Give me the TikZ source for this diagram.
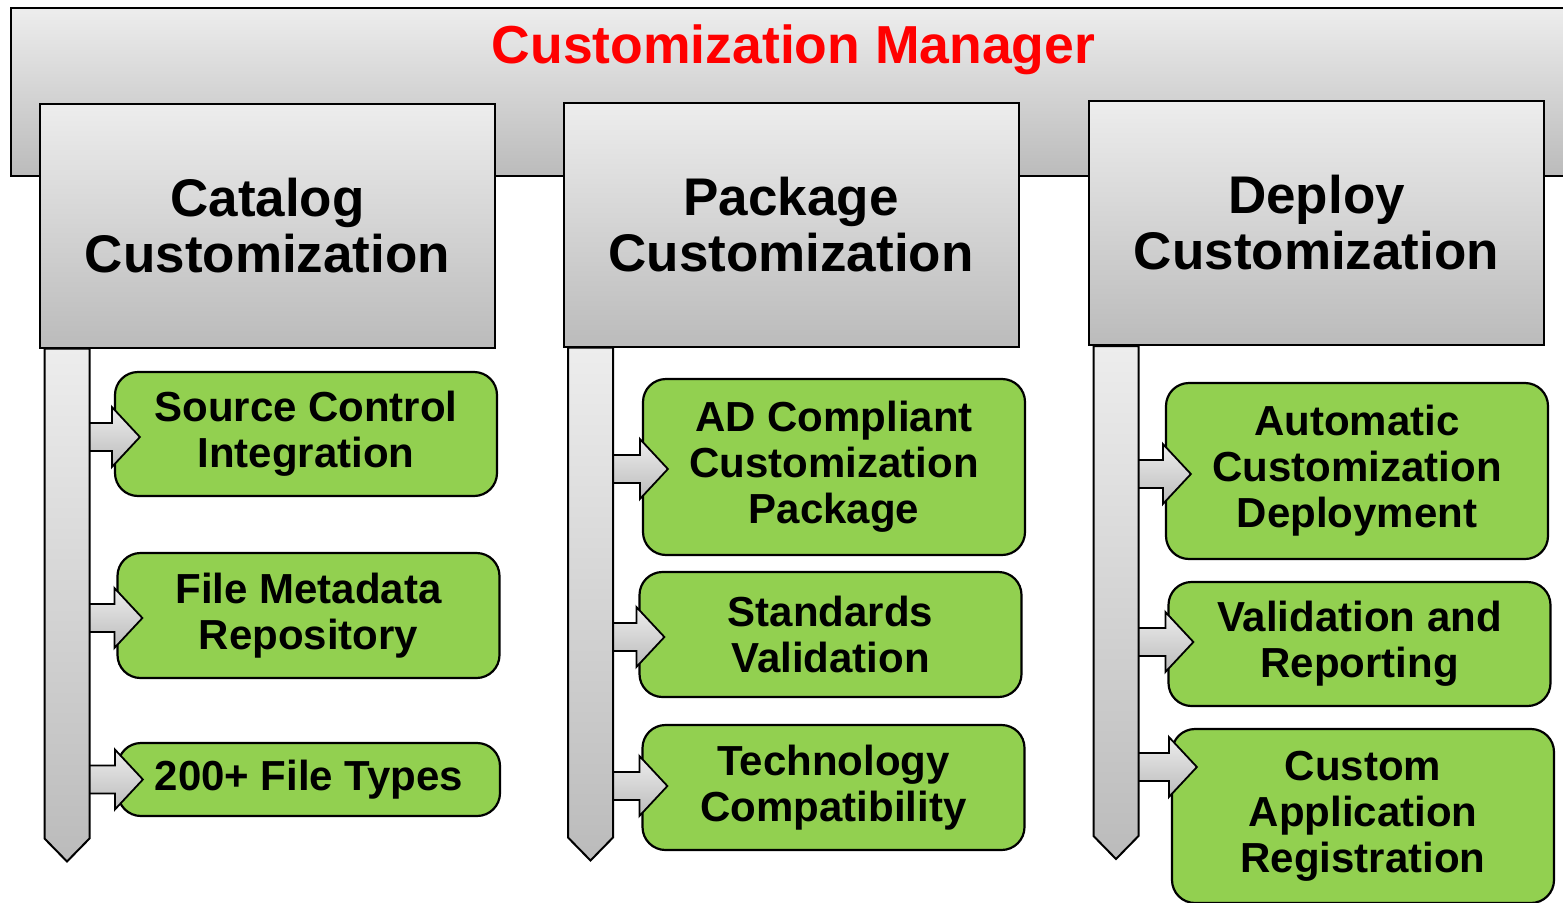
\documentclass[tikz,border=0pt]{standalone}
\usepackage{fontspec}
\setmainfont{Liberation Sans}
\usetikzlibrary{calc}

\definecolor{leafgreen}{HTML}{92D050}
\definecolor{shadetop}{HTML}{EDEDED}
\definecolor{shadebot}{HTML}{BBBBBB}

\begin{document}
\begin{tikzpicture}[x=1pt, y=-1pt,
    topbar/.style={draw, line width=2pt, top color=shadetop, bottom color=shadebot, inner sep=0pt},
    title/.style={text=red, font=\fontsize{53.5}{56}\selectfont\bfseries, inner sep=0pt},
    headbox/.style={draw, line width=2pt, top color=shadetop, bottom color=shadebot,
      minimum width=455pt, minimum height=244pt, align=center, inner sep=0pt,
      font=\fontsize{53}{56}\selectfont\bfseries},
    leafbox/.style={draw, line width=2.2pt, fill=leafgreen, rounded corners=23pt,
      minimum width=382pt, align=center, inner sep=0pt,
      font=\fontsize{42}{46}\selectfont\bfseries},
    polebar/.style={draw, line width=2pt, top color=shadetop, bottom color=shadebot},
    feedarrow/.style={draw, line width=1.8pt, top color=shadetop, bottom color=shadebot}]
  \useasboundingbox (0,0) rectangle (1563,902);

  % manager bar
  \node[topbar, minimum width=1590pt, minimum height=168pt] (mgr) at (806,92) {};
  \node[title, anchor=base] (ttl) at (793.5,63) {Customization Manager};

  % column heads
  \node[headbox] (cat) at (267.5,225.5) {Catalog\\Customization};
  \node[headbox] (pkg) at (791,224.5)   {Package\\Customization};
  \node[headbox] (dep) at (1316.5,223)  {Deploy\\Customization};

  % features
  \node[leafbox, minimum height=124pt] (src)    at (306,434)    {Source Control\\Integration};
  \node[leafbox, minimum height=125pt] (meta)   at (308.5,615.5) {File Metadata\\Repository};
  \node[leafbox, minimum height=73pt]  (types)  at (309,779.5)  {200+ File Types};
  \node[leafbox, minimum height=176pt] (adpkg)  at (834,467)    {AD Compliant\\Customization\\Package};
  \node[leafbox, minimum height=125pt] (std)    at (830.5,634.5) {Standards\\Validation};
  \node[leafbox, minimum height=125pt] (tech)   at (833.5,787.5) {Technology\\Compatibility};
  \node[leafbox, minimum height=176pt] (auto)   at (1357,471)   {Automatic\\Customization\\Deployment};
  \node[leafbox, minimum height=124pt] (valrep) at (1359.5,644) {Validation and\\Reporting};
  \node[leafbox, minimum height=174pt] (reg)    at (1363,816)   {Custom\\Application\\Registration};

  % arrows into the features
  \foreach \b/\dy in {src/3, meta/2.5, types/0, adpkg/2, std/2.5, tech/-1.5, auto/3, valrep/-2, reg/-49}
    \draw[feedarrow, shift={($(\b.west)+(0,\dy)$)}]
      (-40,-14) -- (-2,-14) -- (-2,-30) -- (26,0) -- (-2,30) -- (-2,14) -- (-40,14) -- cycle;

  % poles under the heads
  \foreach \h in {cat,pkg,dep}
    \draw[polebar] ($(\h.south west)+(5.5,0)$) -- ++(0,490) -- ++(22.5,23) -- ++(22.5,-23) -- ++(0,-490) -- cycle;
\end{tikzpicture}
\end{document}
